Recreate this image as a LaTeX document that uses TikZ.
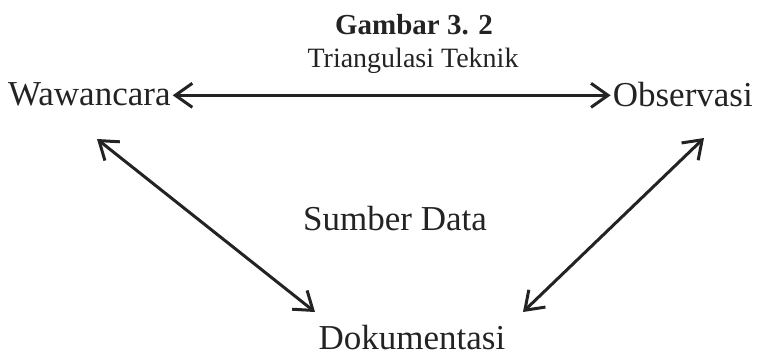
\documentclass[tikz,border=0pt]{standalone}
\usepackage{fontspec}
\setmainfont{Liberation Serif}
\usetikzlibrary{arrows.meta}
\definecolor{ink}{RGB}{35,35,35}

\begin{document}
\begin{tikzpicture}[x=1pt,y=-1pt,
    every node/.style={inner sep=0pt,text=ink},
    lbl/.style={font=\fontsize{35}{40}\selectfont},
    link/.style={draw=ink,line width=3pt,
      {Straight Barb[length=17pt,width=24pt]}-{Straight Barb[length=17pt,width=24pt]}}]
    \useasboundingbox (0,0) rectangle (757,360);
    % judul
    \node [anchor=base,font=\fontsize{29}{34}\selectfont\bfseries] (judul) at (414,34) {Gambar 3. 2};
    \node [anchor=base,font=\fontsize{28}{32}\selectfont] (subjudul) at (413,67) {Triangulasi Teknik};
    % teknik
    \node [lbl,anchor=base west] (waw) at (8,105) {Wawancara};
    \node [lbl,anchor=base east] (obs) at (753,106) {Observasi};
    \node [lbl,anchor=base] (dok) at (412,349) {Dokumentasi};
    \node [lbl,anchor=base] (sumber) at (395,230) {Sumber Data};
    % ujung panah
    \coordinate (wawD) at (97,139);
    \coordinate (obsD) at (704,138);
    \coordinate (dokW) at (315,312);
    \coordinate (dokE) at (523,312);
    \draw [link] ([xshift=2pt,yshift=-1.5pt]waw.east) -- ([xshift=-2pt,yshift=-1.5pt]waw.east -| obs.west);
    \draw [link] (wawD) -- (dokW);
    \draw [link] (obsD) -- (dokE);
\end{tikzpicture}
\end{document}
